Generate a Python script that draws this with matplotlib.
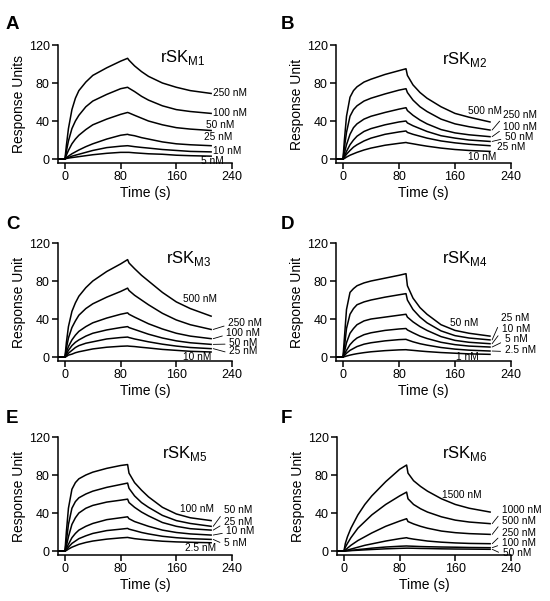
#!/usr/bin/env python
import matplotlib
matplotlib.use ('Agg')
import matplotlib.pyplot as plt

plt.rcParams['font.family'] = ['Liberation Sans', 'DejaVu Sans']

# sampled sensorgram times (s), shared by all panels
time_s = [-10, 0, 2, 5, 10, 15, 20, 30, 40, 60, 80, 90, 92, 100, 110, 120, 140, 160, 180, 210]

# A  rSK M1
a_conc = ['250 nM', '100 nM', '50 nM', '25 nM', '10 nM', '5 nM']
a_ru = [
  [0, 0, 14, 32, 52, 64, 72, 81, 88, 96, 103, 106, 104, 98, 92, 87, 80, 75.5, 72, 69],
  [0, 0, 8, 19, 32, 40, 46, 55, 61, 68, 74, 75.5, 74.5, 71, 66, 62, 56, 52, 50, 48],
  [0, 0, 4, 9, 16, 21, 25, 31, 36, 42, 47, 49, 48.5, 46, 43, 40, 36, 33, 31.5, 30],
  [0, 0, 1.5, 3, 5.5, 7.5, 9.5, 13, 16, 21, 25, 26, 25.5, 24.5, 22.5, 21, 18, 16, 15, 14],
  [0, 0, 1, 1.5, 3, 4, 5, 7, 9, 12, 13.5, 14, 13.8, 13, 12.2, 11.5, 10, 9, 8, 7.5],
  [0, 0, 0.5, 1, 1.5, 2, 2.5, 3.5, 4.5, 6, 7, 7, 7, 6.5, 6, 5.5, 5, 4, 3.5, 3],
]

# B  rSK M2
b_conc = ['500 nM', '250 nM', '100 nM', '50 nM', '25 nM', '10 nM']
b_ru = [
  [0, 0, 20, 45, 65, 72, 76, 81, 84, 89, 93, 95, 88, 78, 70, 64, 55, 48, 44, 39],
  [0, 0, 12, 28, 45, 52, 56, 61, 64, 68.5, 72.5, 74, 70, 62, 55, 50, 42, 37, 34, 30.5],
  [0, 0, 6, 15, 26, 33, 37, 42, 45, 49, 52.5, 54, 51, 46, 41, 37, 31, 27.5, 25.5, 23.5],
  [0, 0, 3, 8, 15, 20, 24, 29, 32, 36, 39, 40, 38, 35, 32, 29, 24.5, 22, 20, 18.5],
  [0, 0, 2, 5, 9, 12.5, 15, 19, 22, 26, 28.5, 29.5, 28, 26, 24, 22, 19, 17, 15.5, 14],
  [0, 0, 0.5, 2, 4, 5.5, 7, 9.5, 11.5, 14.5, 16.5, 17.4, 17, 16, 14.7, 13.5, 11.5, 10, 9, 8],
]

# C  rSK M3
c_conc = ['500 nM', '250 nM', '100 nM', '50 nM', '25 nM', '10 nM']
c_ru = [
  [0, 0, 15, 32, 48, 57, 64, 73, 80, 90, 98, 102.5, 99, 93, 86, 80, 68, 58, 51, 43],
  [0, 0, 9, 20, 31, 38, 44, 51, 56, 63, 69, 72.5, 70, 65, 60, 55, 46, 39, 34, 29],
  [0, 0, 5, 11, 18, 23, 27, 32, 36, 41, 45, 46.5, 45, 42, 38.5, 35, 29.5, 25, 22, 19.3],
  [0, 0, 3, 7, 12, 15.5, 18, 22, 25, 28.5, 31, 32, 31, 29, 26.5, 24, 20, 17, 15, 13.3],
  [0, 0, 1.5, 4, 7, 10, 12, 14.5, 16, 19, 20.5, 21, 20.5, 19, 17.5, 16, 13.5, 11.5, 10, 8.8],
  [0, 0, 0.5, 2, 3, 4.5, 5.5, 7, 8.5, 10.3, 11.3, 11.6, 11.4, 11, 10.2, 9.5, 8, 7, 6, 5.3],
]

# D  rSK M4
d_conc = ['50 nM', '25 nM', '10 nM', '5 nM', '2.5 nM', '1 nM']
d_ru = [
  [0, 0, 20, 50, 68, 72, 75, 78, 80, 83, 86, 87.7, 75, 62, 52, 45, 34, 28, 25, 22],
  [0, 0, 10, 30, 45, 51, 55, 58, 60, 63, 65.5, 66.7, 60, 50, 42, 36, 27.5, 22.5, 20, 18],
  [0, 0, 5, 15, 25, 30, 34, 38, 40, 42, 44, 45, 42, 37, 32, 28, 21.5, 17.5, 15.5, 14],
  [0, 0, 3, 7, 13, 17, 20, 23.5, 25.5, 28, 29.5, 30, 28.5, 25.5, 22, 19.5, 15.5, 13, 11.5, 10.5],
  [0, 0, 1.5, 4, 7, 9, 11, 13.5, 15, 17, 18.3, 18.6, 18, 16, 14, 12.5, 10, 8.3, 7.2, 6.3],
  [0, 0, 0.3, 1, 2, 2.8, 3.5, 4.6, 5.5, 6.7, 7.5, 7.7, 7.5, 7, 6.3, 5.7, 4.7, 4, 3.3, 2.8],
]

# E  rSK M5
e_conc = ['100 nM', '50 nM', '25 nM', '10 nM', '5 nM', '2.5 nM']
e_ru = [
  [0, 0, 20, 45, 65, 72, 76, 80, 83, 87, 90, 91, 82, 72, 64, 57, 46, 39, 35, 32],
  [0, 0, 10, 28, 45, 52, 56, 60, 63, 67, 70, 71.5, 66, 58, 51, 46, 37.5, 32, 29, 26],
  [0, 0, 5, 15, 28, 35, 40, 45, 48, 51.5, 53.5, 54.6, 51, 46, 41, 37, 30, 26, 23.5, 22],
  [0, 0, 3, 7, 14, 18.5, 22, 26, 29, 33, 35, 36, 34, 31, 28.5, 26, 22, 19.5, 18, 16.8],
  [0, 0, 1.5, 4, 8, 10.5, 13, 16, 18.5, 21.5, 23, 23.8, 23, 21.5, 19.5, 18, 15.5, 14, 13, 12.2],
  [0, 0, 0.5, 2, 4, 5.5, 7, 9, 10.5, 12.5, 13.8, 14.3, 14, 13, 12.2, 11.5, 10.3, 9.6, 9.2, 8.7],
]

# F  rSK M6
f_conc = ['1500 nM', '1000 nM', '500 nM', '250 nM', '100 nM', '50 nM']
f_ru = [
  [0, 0, 8, 15, 24, 31, 38, 49, 58, 73, 86, 90.5, 82, 74, 68, 63, 55, 49, 45, 41],
  [0, 0, 4, 8, 14, 19, 24, 31, 38, 49, 58, 62, 55, 49, 44.5, 41, 36, 32.5, 30.5, 28.8],
  [0, 0, 1, 3, 6, 8.5, 11, 15, 19, 26, 31.5, 34, 31, 28.5, 26, 24, 21, 19.3, 18.3, 17.5],
  [0, 0, 0.3, 1, 2, 3, 4, 6, 7.5, 10.5, 13, 14, 13.5, 12.5, 11.5, 10.5, 9.3, 8.5, 8, 7.7],
  [0, 0, 0, 0.3, 0.7, 1, 1.5, 2.2, 3, 4.2, 5, 5.3, 5.2, 5, 4.7, 4.5, 4.2, 4, 3.7, 3.5],
  [0, 0, 0, 0.2, 0.4, 0.6, 0.8, 1.2, 1.6, 2.3, 2.8, 3, 3, 2.9, 2.7, 2.6, 2.3, 2.1, 2, 1.8],
]

x_ticks = [0, 80, 160, 240]
y_ticks = [0, 40, 80, 120]


def panel (rect, letter, letter_xy, sub, ylabel, conc, ru, lab_x, lab_y, leader, title_xy):
  """one sensorgram panel in Prism style"""
  ax = fig.add_axes (rect)
  for series in ru:
    ax.plot (time_s, series, color= 'black', lw= 1.1)
  for i, name in enumerate (conc):
    if leader[i]:
      ax.annotate (name, xy= (time_s[-1] + 3, ru[i][-1]), xytext= (lab_x[i], lab_y[i]),
                   fontsize= 7.3, va= 'center', ha= 'left', annotation_clip= False,
                   arrowprops= dict (arrowstyle= '-', lw= 0.6, color= 'black',
                                     shrinkA= 1, shrinkB= 0, relpos= (0, 0.35)))
    else:
      ax.text (lab_x[i], lab_y[i], name, fontsize= 7.3, va= 'center', ha= 'left')
  ax.text (title_xy[0], title_xy[1], r'rSK$_{\mathregular{' + sub + '}}$', fontsize= 12, va= 'baseline')
  ax.set_xlim (-10, 240)
  ax.set_ylim (-4.2, 120)
  ax.set_xticks (x_ticks)
  ax.set_yticks (y_ticks)
  ax.spines['top'].set_visible (False)
  ax.spines['right'].set_visible (False)
  for s in ('left', 'bottom'):
    ax.spines[s].set_linewidth (1.1)
  ax.tick_params (direction= 'out', length= 4, width= 1.1, labelsize= 9, pad= 2)
  ax.set_xlabel ('Time (s)', fontsize= 10, labelpad= 2)
  ax.set_ylabel (ylabel, fontsize= 10, labelpad= 2)
  fig.text (letter_xy[0] / W, 1 - letter_xy[1] / H, letter, fontsize= 13.5, fontweight= 'bold', va= 'top')
  return ax


W, H = 550, 601
fig = plt.figure (figsize= (W / 100, H / 100), dpi= 100)


def rect (left, top, right, bottom):
  return [left / W, 1 - bottom / H, (right - left) / W, (bottom - top) / H]


panel (rect (58, 45, 232, 163), 'A', (6, 16), 'M1', 'Response Units', a_conc, a_ru,
       [213, 213, 202.6, 199.7, 213, 196], [69.5, 48, 35.8, 22.8, 8.4, -2.1],
       [False] * 6, (136, 102))
panel (rect (336, 45, 511, 163), 'B', (281, 16), 'M2', 'Response Unit', b_conc, b_ru,
       [178, 229, 229, 231.4, 219.5, 178], [51, 46, 33.7, 23.3, 12.8, 2.4],
       [False, True, True, True, False, False], (141, 100))
panel (rect (58, 243, 232, 361), 'C', (6, 216), 'M3', 'Response Unit', c_conc, c_ru,
       [169.5, 234.5, 232, 236, 236, 169.5], [60.7, 35.5, 25, 15.2, 5.8, 0.3],
       [False, True, True, True, True, False], (145, 98.5))
panel (rect (336, 243, 511, 361), 'D', (281, 216), 'M4', 'Response Unit', d_conc, d_ru,
       [153, 225.7, 226.7, 231, 231, 162], [35.5, 40.7, 29, 18.6, 7.4, 0.3],
       [False, True, True, True, True, False], (142, 98.5))
panel (rect (58, 437, 232, 555), 'E', (6, 410), 'M5', 'Response Unit', e_conc, e_ru,
       [165, 228.5, 228.5, 232, 228.5, 172], [43.9, 43, 30.5, 21, 8.7, 3.5],
       [False, True, True, True, True, False], (140, 97.5))
panel (rect (337, 437, 511, 555), 'F', (281, 410), 'M6', 'Response Unit', f_conc, f_ru,
       [141, 226.7, 226.7, 226.7, 226.7, 228], [59, 43, 32, 19, 8.7, -1.7],
       [False, True, True, True, True, True], (141, 97.5))

fig.savefig ('out.png', dpi= 100)
